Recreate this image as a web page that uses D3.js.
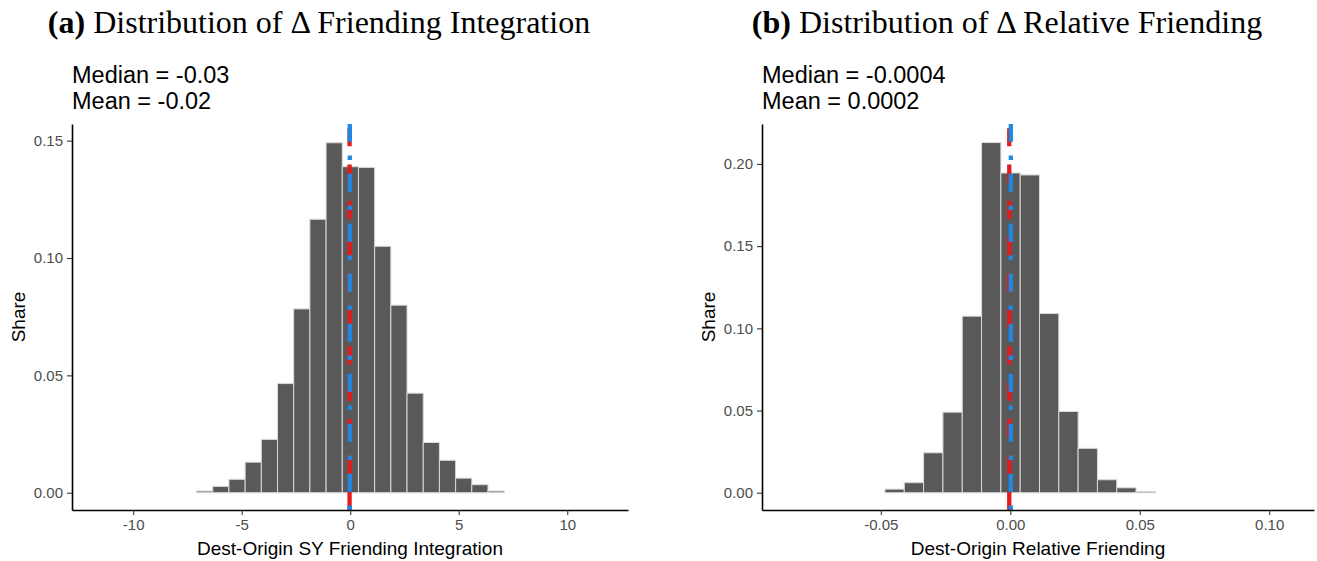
<!DOCTYPE html>
<html>
<head>
<meta charset="utf-8">
<script src="https://cdn.jsdelivr.net/npm/d3@7"></script>
<style>
  html, body { margin: 0; padding: 0; background: #fff; }
  svg { display: block; }
</style>
</head>
<body>
<div id="chart"></div>
<script>
// Two histograms (share per bin) with median (red dashed) and mean (blue dot-dash) lines.

// ── Data ───────────────────────────────────────────────────────────────────
// (a) Δ Friending Integration
const binStartA = -7.08, binWidthA = 0.746;
const sharesA = [0.0007, 0.0027, 0.0057, 0.0130, 0.0227, 0.0465, 0.0783, 0.1165, 0.1491, 0.1389,
                 0.1386, 0.1050, 0.0799, 0.0424, 0.0214, 0.0138, 0.0062, 0.0034, 0.0007];
const medianA = -0.03, meanA = -0.02;
const xTicksA = [-10, -5, 0, 5, 10];
const xTickLabelsA = ['-10', '-5', '0', '5', '10'];
const yTicksA = [0, 0.05, 0.10, 0.15];
const yTickLabelsA = ['0.00', '0.05', '0.10', '0.15'];

// (b) Δ Relative Friending
const binStartB = -0.0484, binWidthB = 0.00746;
const sharesB = [0.0022, 0.0061, 0.0243, 0.0490, 0.1074, 0.2130, 0.1945, 0.1933, 0.1090, 0.0494,
                 0.0270, 0.0079, 0.0030, 0.0008];
const medianB = -0.0004, meanB = 0.0002;
const xTicksB = [-0.05, 0, 0.05, 0.10];
const xTickLabelsB = ['-0.05', '0.00', '0.05', '0.10'];
const yTicksB = [0, 0.05, 0.10, 0.15, 0.20];
const yTickLabelsB = ['0.00', '0.05', '0.10', '0.15', '0.20'];

// ── Layout ─────────────────────────────────────────────────────────────────
const W = 1317, H = 561;
const TOP = 124, BOTTOM = 510;
const SANS = '"Liberation Sans", Arial, sans-serif';
const SERIF = '"Liberation Serif", "DejaVu Serif", serif';
const RED = '#E41A1C', BLUE = '#1E88E5';
const UNIT = 50 / 11;           // dash unit of the reference lines

const svg = d3.select('#chart').append('svg')
  .attr('width', W).attr('height', H).attr('viewBox', `0 0 ${W} ${H}`);

function panel(cfg) {
  const x = d3.scaleLinear().domain(cfg.xDomain).range([cfg.left, cfg.right]);
  const y = d3.scaleLinear().domain(cfg.yDomain).range([BOTTOM, TOP]);
  const g = svg.append('g');

  // title + stats
  const title = svg.append('text').attr('x', cfg.titleX).attr('y', 33)
    .attr('text-anchor', 'middle').attr('font-family', SERIF).attr('font-size', 32).attr('fill', '#000');
  title.append('tspan').attr('font-weight', 700).text(cfg.tag);
  title.append('tspan').text(' ' + cfg.title);

  svg.append('text').attr('x', cfg.left).attr('y', 83).attr('font-family', SANS)
    .attr('font-size', 23.5).attr('fill', '#000').text(`Median = ${cfg.medianLabel}`);
  svg.append('text').attr('x', cfg.left).attr('y', 109).attr('font-family', SANS)
    .attr('font-size', 23.5).attr('fill', '#000').text(`Mean = ${cfg.meanLabel}`);

  // bars
  const bins = cfg.shares.map((s, i) => ({ x0: cfg.binStart + i * cfg.binWidth, x1: cfg.binStart + (i + 1) * cfg.binWidth, s }));
  g.selectAll('rect.bar').data(bins).join('rect').attr('class', 'bar')
    .attr('x', d => x(d.x0)).attr('width', d => x(d.x1) - x(d.x0))
    .attr('y', d => y(d.s)).attr('height', d => y(0) - y(d.s))
    .attr('fill', '#595959').attr('stroke', '#d9d9d9').attr('stroke-width', 1);

  // median / mean lines drawn from the bottom up so the dash pattern starts there
  const vline = (v, color, dash) => g.append('line')
    .attr('x1', x(v)).attr('x2', x(v)).attr('y1', BOTTOM).attr('y2', TOP)
    .attr('stroke', color).attr('stroke-width', 4.3).attr('stroke-linecap', 'butt')
    .attr('stroke-dasharray', dash.map(u => u * UNIT).join(' '));
  vline(cfg.median, RED, [4, 4]);
  vline(cfg.mean, BLUE, [1, 3, 4, 3]);

  // axes
  const xAxis = d3.axisBottom(x).tickValues(cfg.xTicks).tickFormat((d, i) => cfg.xTickLabels[i])
    .tickSizeInner(5).tickSizeOuter(0).tickPadding(4);
  const yAxis = d3.axisLeft(y).tickValues(cfg.yTicks).tickFormat((d, i) => cfg.yTickLabels[i])
    .tickSizeInner(5).tickSizeOuter(0).tickPadding(4);
  const ax = svg.append('g').attr('transform', `translate(0,${BOTTOM})`).call(xAxis);
  const ay = svg.append('g').attr('transform', `translate(${cfg.left},0)`).call(yAxis);
  [ax, ay].forEach(a => {
    a.select('.domain').attr('stroke', '#000').attr('stroke-width', 1.6);
    a.selectAll('.tick line').attr('stroke', '#333').attr('stroke-width', 1.1);
    a.selectAll('.tick text').attr('fill', '#4d4d4d').attr('font-family', SANS).attr('font-size', 15);
  });

  svg.append('text').attr('x', (cfg.left + cfg.right) / 2).attr('y', 555)
    .attr('text-anchor', 'middle').attr('font-family', SANS).attr('font-size', 19).attr('fill', '#000')
    .text(cfg.xLabel);
  svg.append('text').attr('transform', `translate(${cfg.left - 47},${(TOP + BOTTOM) / 2}) rotate(-90)`)
    .attr('text-anchor', 'middle').attr('font-family', SANS).attr('font-size', 19).attr('fill', '#000')
    .text('Share');
}

panel({
  left: 72, right: 628, xDomain: [-12.82, 12.80], yDomain: [-0.00737, 0.1571],
  titleX: 319, tag: '(a)', title: 'Distribution of Δ Friending Integration',
  medianLabel: '-0.03', meanLabel: '-0.02', median: medianA, mean: meanA,
  binStart: binStartA, binWidth: binWidthA, shares: sharesA,
  xTicks: xTicksA, xTickLabels: xTickLabelsA, yTicks: yTicksA, yTickLabels: yTickLabelsA,
  xLabel: 'Dest-Origin SY Friending Integration',
});

panel({
  left: 762, right: 1314, xDomain: [-0.0959, 0.1173], yDomain: [-0.0105, 0.2243],
  titleX: 1007, tag: '(b)', title: 'Distribution of Δ Relative Friending',
  medianLabel: '-0.0004', meanLabel: '0.0002', median: medianB, mean: meanB,
  binStart: binStartB, binWidth: binWidthB, shares: sharesB,
  xTicks: xTicksB, xTickLabels: xTickLabelsB, yTicks: yTicksB, yTickLabels: yTickLabelsB,
  xLabel: 'Dest-Origin Relative Friending',
});
</script>
</body>
</html>
